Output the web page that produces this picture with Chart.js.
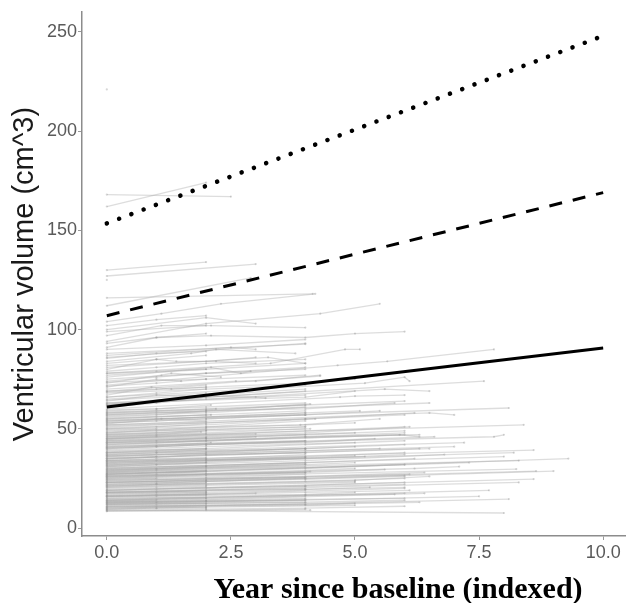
<!DOCTYPE html>
<html>
<head>
<meta charset="utf-8">
<script src="https://cdn.jsdelivr.net/npm/chart.js@4.4.0/dist/chart.umd.min.js"></script>
<style>
  html, body { margin: 0; padding: 0; background: #fff; }
</style>
</head>
<body>
<canvas id="myChart" width="626" height="603"></canvas>
<script>
// individual trajectories: visit times (years) and volumes (cm^3), one row per subject
const subjectYears = [
    [0, 2.5], [0, 2], [0], [0, 2], [0, 3], [0], [0, 2.9], [0, 4.15],
    [0, 1.1, 2.3, 4.2], [0, 2, 3], [0, 1.1, 2.1, 4], [0, 1, 2.1, 4, 5, 6],
    [0, 4], [0, 1.7, 2.2, 3.8], [0, 2.5, 3], [0, 2, 4.3, 5.5],
    [0, 1, 1.4, 2.2, 3], [0, 3.25, 4], [0, 3.3, 4.8, 5.1], [0, 2.1, 2.7, 2.9],
    [0, 1.1, 1.3, 2.3], [0, 2.6, 3, 4.3], [0, 1, 1.5], [0, 0.9, 1.3, 2],
    [0, 4.65, 5.65, 7.8], [0, 1, 3, 3.2], [0, 5.2, 6, 6.1], [0, 7.6],
    [0, 5.6, 6.5], [0, 4.7, 5, 6], [0, 4.3], [0, 4],
    [0, 1, 2], [0, 2, 4], [0, 1, 2, 4], [0, 2], [0, 4, 5], [0, 1, 2], [0, 2, 4],
    [0, 6.5], [0, 8.1], [0, 6.5, 7], [0, 8.4], [0, 7.8, 8], [0, 7.2], [0, 8.6],
    [0, 8.2], [0, 8.3], [0, 8], [0, 9.3], [0, 7.3], [0, 9], [0, 8.65], [0, 8.25],
    [0, 8.6], [0, 8.3], [0, 7.7], [0, 8.1], [0, 7.5], [0, 8],
    [0, 4, 6.1], [0, 2, 6.6], [0, 6.3], [0, 4, 6.8], [0, 6.2, 7.1], [0, 5, 6.5],
    [0, 6], [0, 6.4], [0, 7], [0, 5.9, 6.3], [0, 6.1],
    [0, 1, 2.1], [0, 2, 4.1], [0, 1, 2, 4, 5.8], [0, 2.1], [0, 2, 4, 5.1],
    [0, 1.1, 2], [0, 4, 6.2], [0, 2, 4], [0, 1], [0, 2, 3.9, 5.5], [0, 2],
    [0, 1, 2, 4.1], [0, 4, 6], [0, 2, 5], [0, 1, 2], [0, 2, 4, 6.3], [0, 4],
    [0, 1, 2, 4, 5.4], [0, 2], [0, 2, 4, 6], [0, 1, 2], [0, 4, 5], [0, 2, 4],
    [0, 1], [0, 2, 4, 6.5], [0, 2], [0, 1, 2, 4], [0, 4, 6], [0, 2, 5.2],
    [0, 1, 2], [0, 2, 4, 6.2], [0, 4], [0, 1, 2, 4, 5], [0, 2], [0, 2, 4, 6],
    [0, 1, 2], [0, 4, 5.6], [0, 2, 4], [0, 1], [0, 2, 4, 6.4], [0, 2],
    [0, 1, 2, 4], [0, 4, 6], [0, 2, 5], [0, 1, 2], [0, 2, 4, 6], [0, 4],
    [0, 1, 2, 4, 5.3], [0, 2], [0, 2, 4, 6.1], [0, 1, 2], [0, 4, 5.8], [0, 2, 4],
    [0, 1], [0, 2, 4, 6], [0, 2], [0, 1, 2, 4], [0, 4, 6.3], [0, 2, 5],
    [0, 1, 2], [0, 2, 4, 6], [0, 4.1],
    [0, 2.2], [0, 1, 4], [0, 2, 4.2], [0, 1.9], [0, 2, 4], [0, 1, 2.1],
    [0, 4, 5.5], [0, 2, 4], [0, 1, 2], [0, 2, 4.1], [0, 1, 2], [0, 4, 6],
    [0, 2], [0, 1, 2, 4], [0, 2, 4], [0, 1, 2], [0, 2, 4], [0, 1, 2],
    [0, 2, 3], [0, 1, 2],
    [0, 1, 2, 4], [0, 2, 4, 6], [0, 1, 2], [0, 2, 4], [0, 4, 5.5], [0, 1, 2, 4],
    [0, 2], [0, 2, 4, 6], [0, 1, 2], [0, 2, 4, 5], [0, 4], [0, 1, 2, 4],
    [0, 2, 4], [0, 1, 2, 3], [0, 2, 4, 6], [0, 4, 6], [0, 1, 2], [0, 2, 4],
    [0, 1, 2, 4], [0, 2, 5], [0, 4], [0, 1, 2, 4, 6], [0, 2], [0, 2, 4],
    [0, 1, 2], [0, 4, 5], [0, 2, 4, 6], [0, 1, 2], [0, 2, 4], [0, 1, 2, 4],
    [0, 4, 6], [0, 2], [0, 2, 4, 5], [0, 1, 2], [0, 2, 4], [0, 4],
    [0, 1, 2, 4], [0, 2, 4, 6], [0, 1, 2], [0, 2, 5], [0, 4, 6], [0, 1, 2, 4],
    [0, 2], [0, 2, 4], [0, 1, 2], [0, 4, 5], [0, 2, 4, 6], [0, 1, 2],
    [0, 2, 4], [0, 1, 2, 4], [0, 4, 6], [0, 2], [0, 2, 4, 5], [0, 1, 2],
    [0, 2, 4], [0, 1, 2, 4], [0, 2, 4], [0, 1, 2], [0, 2, 4, 6], [0, 1, 2],
    [0, 2, 4], [0, 1, 2, 4], [0, 2, 4, 6], [0, 1, 2], [0, 2, 4], [0, 1, 2],
    [0, 2, 3], [0, 1, 2, 4], [0, 2, 4], [0, 1, 2],
    [0, 1, 2, 4], [0, 2, 4], [0, 1, 2], [0, 2, 4, 5], [0, 1, 2], [0, 2, 4],
    [0, 1, 2, 4], [0, 2, 3], [0, 1, 2], [0, 2, 4], [0, 1, 2], [0, 2],
    [0, 1, 2], [0, 2, 4], [0, 1, 2], [0, 2, 4], [0, 1, 2]
];
const subjectVolumes = [
    [168, 167], [162, 174], [221], [130, 134], [127, 133], [125], [112, 126], [116, 118],
    [104, 108, 113, 118], [100, 106, 103], [97, 102, 102, 101], [91, 96, 97, 96, 98, 99],
    [86, 93], [84, 88, 90, 88], [87, 91, 90], [94, 103, 108, 113],
    [80, 85, 84, 84, 83], [81, 86, 83], [78, 83, 90, 90], [76, 81, 78, 79],
    [73, 77, 78, 76], [70, 74, 74, 77], [71, 75, 74], [67, 71, 70, 71],
    [72, 82, 84, 90], [64, 67, 66, 65.5], [66, 73, 76, 74], [63, 74],
    [62, 70, 69], [60, 66, 66.5, 67], [69, 76.6], [88, 92.7],
    [83, 85, 87], [77, 80, 83], [74, 76, 78, 81], [65, 68], [63, 66, 69], [61, 63, 66], [68, 70, 72],
    [57, 63], [54, 60.5], [52, 58, 57], [46, 52], [41, 46, 47], [38, 43], [34, 39.3],
    [32, 38], [29, 34], [30, 36], [27, 35], [27, 33], [22, 28.7], [23, 28.7], [25, 29.7],
    [19, 24.7], [18, 23], [14, 19], [10, 14.6], [12, 16], [9, 7.6],
    [45, 48, 51], [40, 42, 46], [35, 40], [31, 34, 37], [26, 30, 31], [21, 24, 26],
    [16, 20], [13, 17.5], [36, 41], [42, 47, 46], [24, 27],
    [59, 60, 62], [57.5, 59, 62.5], [56, 57, 59, 60, 63], [55, 57], [53.5, 56, 58, 59],
    [52.5, 55, 54], [51, 55, 58], [50, 51, 54], [49.5, 50], [48, 51, 52, 55], [47.5, 49],
    [46, 47, 49, 50], [45, 49, 51], [44.5, 46, 48], [43, 44, 45.5], [42, 44, 46, 47], [41.5, 44],
    [40, 41, 42, 43, 45], [39, 40], [38.5, 40, 42, 44], [37.5, 38, 39.5], [37, 40, 41], [36, 38, 40],
    [35.5, 36], [34.5, 37, 38, 40], [34, 35], [33, 34, 35, 37], [32.5, 36, 38], [31.5, 34, 36],
    [31, 32, 33], [30, 31.5, 33, 35], [29.5, 32], [28.5, 29.5, 30.5, 32, 33], [28, 29], [27, 28.5, 30, 32],
    [26.5, 27, 28.5], [26, 28, 29.5], [25, 26.5, 28], [24.5, 25], [23.5, 25, 26, 28], [23, 24],
    [22, 22.5, 23.5, 25], [21.5, 23.5, 25], [20.5, 22, 23.5], [20, 20.5, 21], [19, 20.5, 21.5, 23], [18.5, 20],
    [17.5, 18, 19, 19.5, 20.5], [17, 18], [16, 17, 18, 19], [15.5, 16, 16.5], [15, 16.5, 17], [14, 15, 16],
    [13.5, 14], [13, 13.5, 14.5, 15], [12, 12.5], [11.5, 12, 12.5, 13], [11, 12, 13], [10, 10.5, 11.5],
    [9.5, 10, 10], [9, 9.5, 10, 11], [8.5, 9],
    [58.5, 60], [54, 55, 58], [50.5, 52, 55], [47, 48.5], [43.5, 45, 47], [40.5, 41.5, 43],
    [36.5, 39, 40], [33.5, 34.5, 36], [29, 30, 31], [25.5, 27, 28.5], [21, 22, 22.5], [18, 19.5, 20.5],
    [14.5, 15.5], [10.5, 11, 11.5, 12], [56.5, 58, 61], [45.5, 46.5, 47.5], [32, 33, 35], [27.5, 28, 29],
    [16.5, 17, 17.5], [12.5, 13, 13.5],
    [59.5, 60, 61, 63], [58, 59.5, 62, 64], [57, 58, 58.5], [55.5, 57, 59], [54.5, 57, 59], [53, 54, 55, 57],
    [52, 53.5], [51.5, 53, 55, 57], [50, 51, 52.5], [49, 50.5, 52, 53], [48.5, 51], [47, 48, 49.5, 51],
    [46.5, 48, 50], [45, 46, 47, 47.5], [44, 45.5, 47, 49], [43, 45.5, 47], [42.5, 43, 44], [41, 42.5, 44],
    [40.5, 41, 42, 43.5], [39.5, 41, 43], [38, 40], [37, 38, 38.5, 40, 42], [36.5, 37.5], [35, 36.5, 38],
    [34, 35, 35.5], [33.5, 35.5, 36.5], [32.5, 34, 35, 37], [31.5, 32, 33], [30.5, 31.5, 33], [29.5, 30, 31, 32.5],
    [28.5, 30.5, 32], [27.5, 28.5], [26.5, 27.5, 29, 30], [25.5, 26, 27], [24.5, 25.5, 27], [24, 25.5],
    [23, 23.5, 24.5, 25.5], [22.5, 23.5, 24.5, 26], [21.5, 22, 23], [20.5, 21.5, 23], [19.5, 21, 22], [19, 19.5, 20, 21],
    [18, 18.5], [17.5, 18, 19], [16.5, 17, 17.5], [16, 17, 18], [15, 15.5, 16.5, 17.5], [14, 14.5, 15],
    [13.5, 14, 15], [12.5, 13, 13.5, 14], [12, 13, 14], [11, 11.5], [10.5, 11, 11.5, 12.5], [9.5, 10, 10.5],
    [8.5, 9, 9.5], [58, 59, 60, 62], [53, 55, 57], [48, 49, 50], [43, 44, 46, 48], [38, 39, 40],
    [33, 34, 35.5], [28, 29, 30, 31], [23, 24, 25, 26.5], [18, 18.5, 19], [13, 13.5, 14], [55, 56, 57],
    [44, 45, 46], [35, 36, 37, 38], [26, 27, 28], [16, 16.5, 17],
    [62, 64, 66, 69], [64.5, 67, 70], [66, 68, 70], [68.5, 71, 73, 75], [71.5, 73, 75], [75, 78, 80],
    [79, 81, 83, 85], [82, 84, 86], [85.5, 88, 89], [90, 92, 95], [93, 96, 98], [99, 102],
    [102, 105, 107], [62.5, 65, 67], [69, 70, 72], [73.5, 75, 77], [78, 79, 80]
];

// fitted lines
const fitYears = [0, 10];
const fitMean = [61, 90.7];
const fitDashed = [107, 169];
const fitDotted = [153.5, 248];

const xTicks = [0, 2.5, 5, 7.5, 10];
const yTicks = [0, 50, 100, 150, 200, 250];

const grayDatasets = subjectYears.map((years, i) => ({
    data: years.map((x, j) => ({ x: x, y: subjectVolumes[i][j] })),
    borderColor: 'rgba(170, 170, 170, 0.4)',
    borderWidth: 1.3,
    pointRadius: 1.1,
    pointBorderWidth: 0,
    pointBackgroundColor: 'rgba(140, 140, 140, 0.35)',
    order: 2,
}));

function fitLine(values, extra) {
    return Object.assign({
        data: fitYears.map((x, i) => ({ x: x, y: values[i] })),
        borderColor: '#000',
        borderWidth: 3,
        pointRadius: 0,
        order: 0,
    }, extra);
}

const xTitlePlugin = {
    id: 'xTitle',
    afterDraw(chart) {
        const ctx = chart.ctx;
        ctx.save();
        ctx.font = 'bold 30px "Liberation Serif"';
        ctx.fillStyle = '#000';
        ctx.textAlign = 'center';
        ctx.textBaseline = 'alphabetic';
        ctx.fillText('Year since baseline (indexed)', 398, 598);
        ctx.restore();
    }
};

const ctx = document.getElementById('myChart').getContext('2d');

const chart = new Chart(ctx, {
    type: 'line',
    data: {
        datasets: grayDatasets.concat([
            fitLine(fitMean, {}),
            fitLine(fitDashed, { borderDash: [13, 11] }),
            fitLine(fitDotted, { borderDash: [0.1, 13], borderCapStyle: 'round', borderWidth: 4.5 }),
        ]),
    },
    plugins: [xTitlePlugin],
    options: {
        responsive: false,
        animation: false,
        layout: { autoPadding: false, padding: { top: 12, right: 0, left: 0, bottom: 0 } },
        plugins: {
            legend: { display: false },
            tooltip: { enabled: false },
        },
        scales: {
            x: {
                type: 'linear',
                min: -0.5,
                max: 10.46,
                afterBuildTicks: (scale) => { scale.ticks = xTicks.map((v) => ({ value: v })); },
                afterFit: (scale) => { scale.height = 67; },
                ticks: {
                    callback: (v) => v.toFixed(1),
                    color: '#5a5a5a',
                    padding: 2,
                    maxRotation: 0,
                    font: { family: 'Liberation Sans', size: 18 },
                },
                grid: { drawOnChartArea: false, drawTicks: true, tickLength: 4, color: '#999' },
                border: { display: true, color: '#8c8c8c', width: 1.5 },
            },
            y: {
                min: -4,
                max: 260,
                afterBuildTicks: (scale) => { scale.ticks = yTicks.map((v) => ({ value: v })); },
                afterFit: (scale) => { scale.width = 82; },
                ticks: {
                    color: '#5a5a5a',
                    padding: 1,
                    font: { family: 'Liberation Sans', size: 18 },
                },
                grid: { drawOnChartArea: false, drawTicks: true, tickLength: 4, color: '#999' },
                border: { display: true, color: '#8c8c8c', width: 1.5 },
                title: {
                    display: true,
                    text: 'Ventricular volume (cm^3)',
                    color: '#1a1a1a',
                    padding: { top: 8 },
                    font: { family: 'Liberation Sans', size: 29 },
                },
            },
        },
    },
});
</script>
</body>
</html>
